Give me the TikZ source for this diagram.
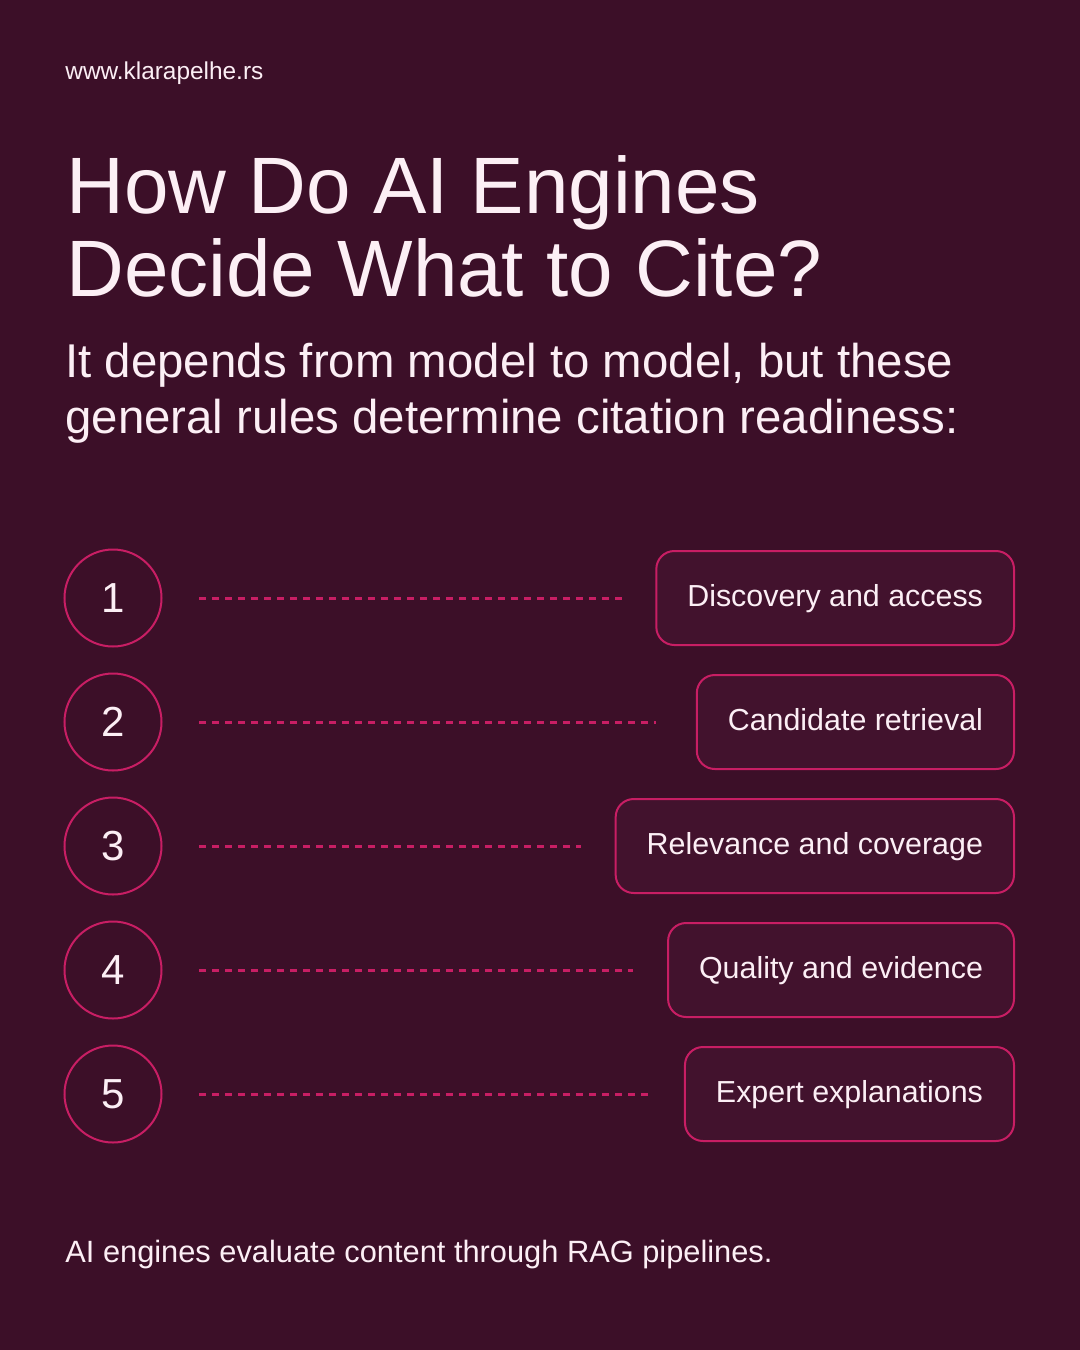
\documentclass[tikz,border=0pt]{standalone}
\usepackage{fontspec}
\setmainfont{Liberation Sans}
\definecolor{bg}{HTML}{3C0F28}
\definecolor{boxbg}{HTML}{42122D}
\definecolor{mag}{HTML}{C81E64}
\definecolor{txt}{HTML}{FCEFF5}
\begin{document}
\begin{tikzpicture}[x=0.5pt,y=-0.5pt,
  num/.style={circle,draw=mag,line width=1pt,minimum size=48.5pt,inner sep=0,text=txt,font=\fontsize{21}{21}\selectfont},
  stepbox/.style={draw=mag,line width=1pt,rounded corners=9pt,fill=boxbg,minimum height=47pt,text=txt,font=\fontsize{15.2}{15.2}\selectfont,anchor=east,inner xsep=15.5pt,text height=11pt,text depth=3pt},
  dots/.style={mag,line width=1.5pt,dash pattern=on 3.5pt off 3pt},
  txtn/.style={anchor=base west,inner sep=0,text=txt}]
\fill[bg] (0,0) rectangle (1080,1350);
\useasboundingbox (0,0) rectangle (1080,1350);
\node[txtn,font=\fontsize{12.2}{12.2}\selectfont] (url) at (65,79) {www.klarapelhe.rs};
\node[txtn,font=\fontsize{40}{40}\selectfont] (t1) at (66,213) {How Do AI Engines};
\node[txtn,font=\fontsize{40}{40}\selectfont] (t2) at (66,296) {Decide What to Cite?};
\node[txtn,font=\fontsize{23.7}{23.7}\selectfont] (s1) at (65,377) {It depends from model to model, but these};
\node[txtn,font=\fontsize{23.7}{23.7}\selectfont] (s2) at (65,433) {general rules determine citation readiness:};
\foreach \i/\y/\lab/\ex in {1/598/Discovery and access/624,2/722/Candidate retrieval/656,3/846/Relevance and coverage/581,4/970/Quality and evidence/633,5/1094/Expert explanations/650}{
  \node[num] (n\i) at (113,\y) {\i};
  \node[stepbox] (b\i) at (1015,\y) {\lab};
  \coordinate (e\i) at (\ex,\y);
  \coordinate (s\i) at (199,\y);
  \draw[dots] (s\i) -- (e\i);
}
\node[txtn,font=\fontsize{15.4}{15.4}\selectfont] (foot) at (65,1262) {AI engines evaluate content through RAG pipelines.};
\end{tikzpicture}
\end{document}
